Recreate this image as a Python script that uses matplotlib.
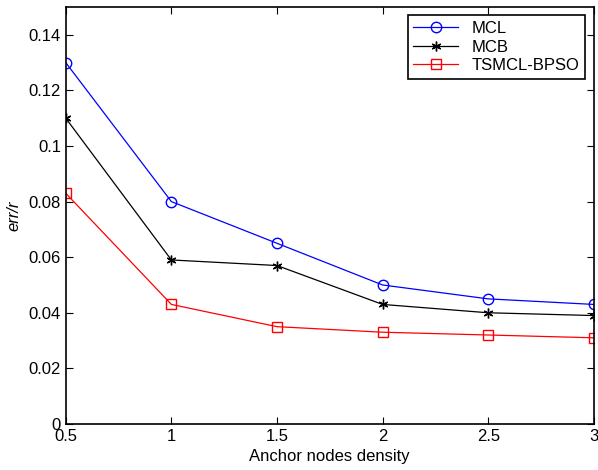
import matplotlib
matplotlib.use('Agg')
import matplotlib.pyplot as plt

density = [0.5, 1, 1.5, 2, 2.5, 3]
mcl = [0.13, 0.08, 0.065, 0.05, 0.045, 0.043]
mcb = [0.11, 0.059, 0.057, 0.043, 0.040, 0.039]
tsmcl = [0.083, 0.043, 0.035, 0.033, 0.032, 0.031]

plt.rcParams['font.family'] = ['Liberation Sans', 'DejaVu Sans']
plt.rcParams['font.size'] = 12

fig = plt.figure(figsize=(5.98, 4.70), dpi=100)
ax = fig.add_axes([0.110, 0.098, 0.883, 0.887])

ax.plot(density, mcl, color='#0000ff', marker='o', markersize=7.5, markerfacecolor='none', linewidth=0.9, label='MCL')
ax.plot(density, mcb, color='black', marker=(6, 2, 0), markersize=7, markeredgewidth=1.0, linewidth=0.9, label='MCB')
ax.plot(density, tsmcl, color='#ff0000', marker='s', markersize=6.5, markerfacecolor='none', linewidth=0.9, label='TSMCL-BPSO')

ax.set_xlim(0.5, 3)
ax.set_ylim(0, 0.15)
ax.set_xticks(density)
ax.set_xticklabels(['0.5', '1', '1.5', '2', '2.5', '3'])
ax.set_yticks([0, 0.02, 0.04, 0.06, 0.08, 0.1, 0.12, 0.14])
ax.set_yticklabels(['0', '0.02', '0.04', '0.06', '0.08', '0.1', '0.12', '0.14'])
ax.tick_params(direction='in', top=True, right=True, labelsize=12, length=5, pad=3.5)
for s in ax.spines.values():
    s.set_linewidth(1.2)

ax.set_xlabel('Anchor nodes density', fontsize=12, labelpad=4)
ax.set_ylabel('err/r', fontsize=12, style='italic', labelpad=5)

leg = ax.legend(loc='upper right', fancybox=False, edgecolor='black', framealpha=1,
                fontsize=12, borderaxespad=0.5, handlelength=2.7, labelspacing=0.2,
                borderpad=0.35)
leg.get_frame().set_linewidth(1.2)

fig.savefig('out.png', dpi=100)
